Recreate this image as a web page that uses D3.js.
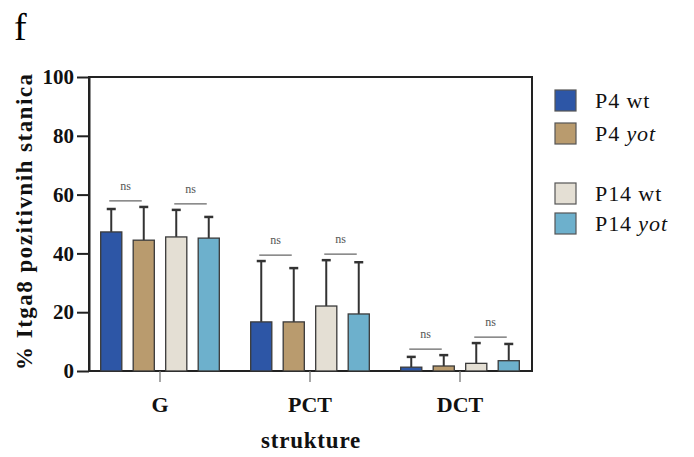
<!DOCTYPE html>
<html>
  <head>
    <meta charset="utf-8">
    <title>Itga8</title>
    <script src="https://d3js.org/d3.v7.min.js"></script>
    <style>
      body { margin: 0; background: #fff; }
      svg { font-family: "Liberation Serif", "DejaVu Serif", serif; }
    </style>
  </head>
  <body>
    <svg id="chart" width="694" height="457"></svg>
    <script>
      // data
      categories = ["G", "PCT", "DCT"];
      groups = ["P4 wt", "P4 yot", "P14 wt", "P14 yot"];
      means = [
        [47.3, 44.5, 45.6, 45.2],
        [16.7, 16.7, 22.1, 19.4],
        [1.3, 1.7, 2.6, 3.5]
      ];
      upper = [
        [55.1, 55.8, 54.8, 52.4],
        [37.4, 35.0, 37.7, 37.0],
        [4.8, 5.4, 9.5, 9.2]
      ];
      yTicks = [0, 20, 40, 60, 80, 100];
      colors = ["#2d56a6", "#b99b6e", "#e4dfd4", "#6db0cc"];

      chart = d3.select("#chart");
      margin = { top: 77, right: 162, bottom: 86, left: 89 };
      width = 694;
      height = 457;

      x0 = d3.scaleBand()
        .domain(categories)
        .range([85, 535]);
      x1 = d3.scaleBand()
        .domain(groups)
        .range([-65, 65])
        .paddingInner(0.35)
        .paddingOuter(0.175);
      y = d3.scaleLinear()
        .domain([0, 100])
        .range([height - margin.bottom, margin.top]);

      // frame
      chart.append("rect")
        .attr("x", margin.left)
        .attr("y", margin.top)
        .attr("width", 532 - margin.left)
        .attr("height", y(0) - margin.top)
        .attr("fill", "none")
        .attr("stroke", "#222")
        .attr("stroke-width", 2);

      // bars
      catGroups = chart.selectAll(".cat")
          .data(categories)
        .enter().append("g")
          .attr("transform", function(d) { return "translate(" + (x0(d) + x0.bandwidth() / 2) + ",0)"; });
      catGroups.each(function(c, ci) {
        let g = d3.select(this);
        groups.forEach(function(s, si) {
          let bx = x1(s);
          let cx = bx + x1.bandwidth() / 2;
          g.append("line")
            .attr("x1", cx).attr("x2", cx)
            .attr("y1", y(means[ci][si])).attr("y2", y(upper[ci][si]))
            .attr("stroke", "#333").attr("stroke-width", 2);
          g.append("line")
            .attr("x1", cx - 4.5).attr("x2", cx + 4.5)
            .attr("y1", y(upper[ci][si])).attr("y2", y(upper[ci][si]))
            .attr("stroke", "#333").attr("stroke-width", 2.5);
          g.append("rect")
            .attr("x", bx)
            .attr("y", y(means[ci][si]))
            .attr("width", x1.bandwidth())
            .attr("height", y(0) - y(means[ci][si]))
            .attr("fill", colors[si])
            .attr("stroke", "#3a3a3a")
            .attr("stroke-width", 1.3);
        });
        // ns brackets
        [[0, 1], [2, 3]].forEach(function(p) {
          let a = x1(groups[p[0]]) + x1.bandwidth() / 2 - 2;
          let b = x1(groups[p[1]]) + x1.bandwidth() / 2 - 2;
          let top = y(Math.max(upper[ci][p[0]], upper[ci][p[1]])) - 6;
          g.append("line")
            .attr("x1", a).attr("x2", b)
            .attr("y1", top).attr("y2", top)
            .attr("stroke", "#666").attr("stroke-width", 1.3);
          g.append("text")
            .attr("x", (a + b) / 2)
            .attr("y", top - 11)
            .attr("text-anchor", "middle")
            .attr("font-size", 12)
            .attr("fill", "#555")
            .text("ns");
        });
      });

      // axes
      yAxis = d3.axisLeft(y)
        .tickValues(yTicks)
        .tickSize(12)
        .tickPadding(3)
        .tickSizeOuter(0);
      yAxisGroup = chart.append("g")
        .attr("transform", "translate(" + margin.left + ",0)")
        .call(yAxis);
      yAxisGroup.select(".domain").attr("stroke", "#222").attr("stroke-width", 2);
      yAxisGroup.selectAll(".tick line").attr("stroke", "#222").attr("stroke-width", 2);
      yAxisGroup.selectAll(".tick text")
        .attr("font-family", "Liberation Serif")
        .attr("font-weight", "bold")
        .attr("font-size", 21)
        .attr("fill", "#111");

      xAxis = d3.axisBottom(x0)
        .tickSize(11)
        .tickPadding(14)
        .tickSizeOuter(0);
      xAxisGroup = chart.append("g")
        .attr("transform", "translate(0," + y(0) + ")")
        .call(xAxis);
      xAxisGroup.select(".domain").remove();
      xAxisGroup.selectAll(".tick line").attr("stroke", "#777").attr("stroke-width", 1.3);
      xAxisGroup.selectAll(".tick text")
        .attr("font-family", "Liberation Serif")
        .attr("font-weight", "bold")
        .attr("font-size", 22)
        .attr("fill", "#111");

      // titles
      chart.append("text")
        .attr("x", 311)
        .attr("y", 448)
        .attr("text-anchor", "middle")
        .attr("font-weight", "bold")
        .attr("font-size", 23)
        .attr("letter-spacing", 0.8)
        .attr("fill", "#111")
        .text("strukture");
      chart.append("text")
        .attr("transform", "translate(32," + ((margin.top + y(0)) / 2 - 2) + ") rotate(-90)")
        .attr("text-anchor", "middle")
        .attr("font-weight", "bold")
        .attr("font-size", 23)
        .attr("textLength", 296)
        .attr("lengthAdjust", "spacing")
        .attr("fill", "#111")
        .text("% Itga8 pozitivnih stanica");
      chart.append("text")
        .attr("x", 14)
        .attr("y", 40)
        .attr("font-size", 38)
        .attr("fill", "#000")
        .text("f");

      // legend
      legendY = [90, 123, 183, 213];
      legend = chart.selectAll(".legend")
          .data(groups)
        .enter().append("g")
          .attr("transform", function(d, i) { return "translate(555," + legendY[i] + ")"; });
      legend.append("rect")
        .attr("width", 21)
        .attr("height", 21)
        .attr("fill", function(d, i) { return colors[i]; })
        .attr("stroke", "#555")
        .attr("stroke-width", 1.2);
      legend.append("text")
        .attr("x", 40)
        .attr("y", 18)
        .attr("font-size", 22)
        .attr("letter-spacing", 0.9)
        .attr("fill", "#111")
        .each(function(d) {
          let parts = d.split(" ");
          d3.select(this).append("tspan").text(parts[0] + " ");
          d3.select(this).append("tspan")
            .attr("font-style", parts[1] == "yot" ? "italic" : "normal")
            .text(parts[1]);
        });
    </script>
  </body>
</html>
